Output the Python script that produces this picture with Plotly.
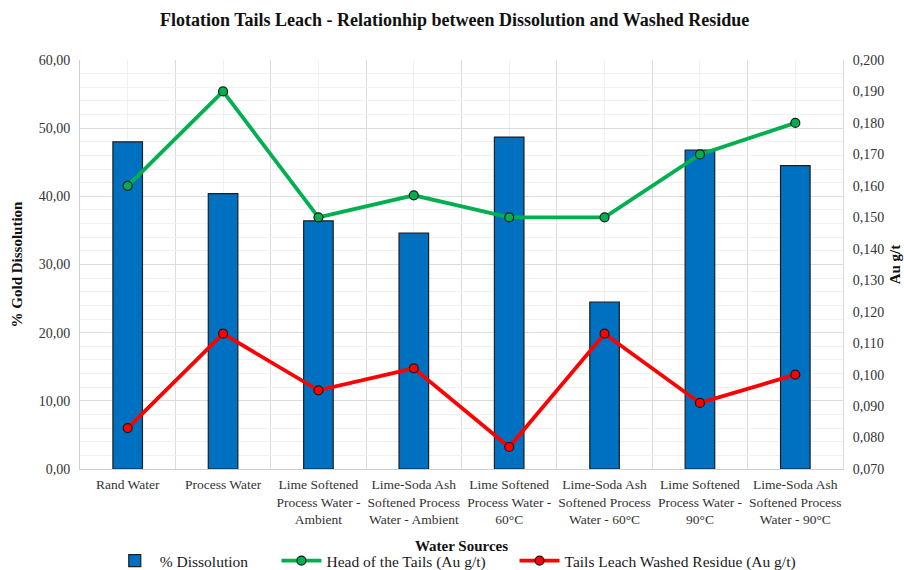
import plotly.graph_objects as go

# Water source categories (x axis)
sources = [
    "Rand Water",
    "Process Water",
    "Lime Softened<br>Process Water -<br>Ambient",
    "Lime-Soda Ash<br>Softened Process<br>Water - Ambient",
    "Lime Softened<br>Process Water -<br>60°C",
    "Lime-Soda Ash<br>Softened Process<br>Water - 60°C",
    "Lime Softened<br>Process Water -<br>90°C",
    "Lime-Soda Ash<br>Softened Process<br>Water - 90°C",
]

# % gold dissolution (left axis)
dissolution = [48.0, 40.4, 36.4, 34.6, 48.7, 24.5, 46.8, 44.5]

# Head grade of the tails, Au g/t (right axis)
head_tails = [0.160, 0.190, 0.150, 0.157, 0.150, 0.150, 0.170, 0.180]

# Tails leach washed residue, Au g/t (right axis)
washed_residue = [0.083, 0.113, 0.095, 0.102, 0.077, 0.113, 0.091, 0.100]

idx = list(range(len(sources)))
SERIF = "Liberation Serif, Times New Roman, serif"
TXT = "#262626"
TICK = "#333333"

fig = go.Figure()

fig.add_trace(go.Bar(
    x=idx, y=dissolution, name="% Dissolution", width=0.31,
    marker=dict(color="#0070C0", line=dict(color="#1f1f1f", width=1.2)),
    yaxis="y", legend="legend", showlegend=True,
))

fig.add_trace(go.Scatter(
    x=idx, y=head_tails, name="Head of the Tails (Au g/t)", mode="lines+markers",
    line=dict(color="#00B050", width=3.8),
    marker=dict(symbol="circle", size=9, color="#00B050", line=dict(color="#1a1a1a", width=1.2)),
    yaxis="y2", legend="legend2", showlegend=True,
))

fig.add_trace(go.Scatter(
    x=idx, y=washed_residue, name="Tails Leach Washed Residue (Au g/t)", mode="lines+markers",
    line=dict(color="#FF0000", width=3.8),
    marker=dict(symbol="circle", size=9, color="#FF0000", line=dict(color="#1a1a1a", width=1.2)),
    yaxis="y2", legend="legend3", showlegend=True,
))

# one legend per series, laid out in a row under the axis title
def legend_at(x):
    return dict(
        orientation="h", x=x, xanchor="left", y=-0.225, yanchor="middle",
        font=dict(family=SERIF, size=15.5, color="#1a1a1a"),
        bgcolor="rgba(0,0,0,0)", itemwidth=40,
    )

fig.update_layout(
    width=904, height=570,
    showlegend=True,
    margin=dict(l=80, r=61, t=60, b=101, autoexpand=False),
    paper_bgcolor="white", plot_bgcolor="white",
    separators=",.",
    font=dict(family=SERIF, color=TXT, size=13),
    title=dict(
        text="<b>Flotation Tails Leach - Relationhip between Dissolution and Washed Residue</b>",
        x=0.503, xanchor="center", y=0.965, yanchor="middle",
        font=dict(family=SERIF, size=18, color="#111111"),
    ),
    xaxis=dict(
        range=[-0.5, 7.5],
        tickmode="array", tickvals=idx, ticktext=sources,
        tickfont=dict(family=SERIF, size=13.5, color=TICK),
        ticklabelstandoff=3,
        showgrid=True, gridcolor="#f0f0f0", gridwidth=1,
        minor=dict(tick0=-0.5, dtick=1, showgrid=True, gridcolor="#dcdcdc", gridwidth=1),
        showline=True, linecolor="#cfcfcf", linewidth=1,
        ticks="", zeroline=False, automargin=False,
        title=dict(text="<b>Water Sources</b>", font=dict(family=SERIF, size=15, color="#111111"), standoff=14),
    ),
    yaxis=dict(
        range=[0, 60], dtick=10, tickformat=".2f",
        tickfont=dict(family=SERIF, size=14, color=TICK),
        ticklabelstandoff=6,
        showgrid=True, gridcolor="#dcdcdc", gridwidth=1,
        minor=dict(dtick=2, showgrid=True, gridcolor="#f0f0f0", gridwidth=1),
        showline=True, linecolor="#cfcfcf", zeroline=False, ticks="", automargin=False,
        title=dict(text="<b>% Gold Dissolution</b>", font=dict(family=SERIF, size=15, color="#111111"), standoff=12),
    ),
    yaxis2=dict(
        range=[0.07, 0.2], dtick=0.01, tick0=0.07, tickformat=".3f",
        overlaying="y", side="right",
        tickfont=dict(family=SERIF, size=14, color=TICK),
        ticklabelstandoff=6,
        showgrid=False, zeroline=False, ticks="", automargin=False,
        showline=True, linecolor="#dcdcdc",
        title=dict(text="<b>Au g/t</b>", font=dict(family=SERIF, size=15, color="#111111"), standoff=6),
    ),
    legend=legend_at(0.039),
    legend2=legend_at(0.2575),
    legend3=legend_at(0.5695),
    bargap=0.69,
)

fig.write_html("out.html")
